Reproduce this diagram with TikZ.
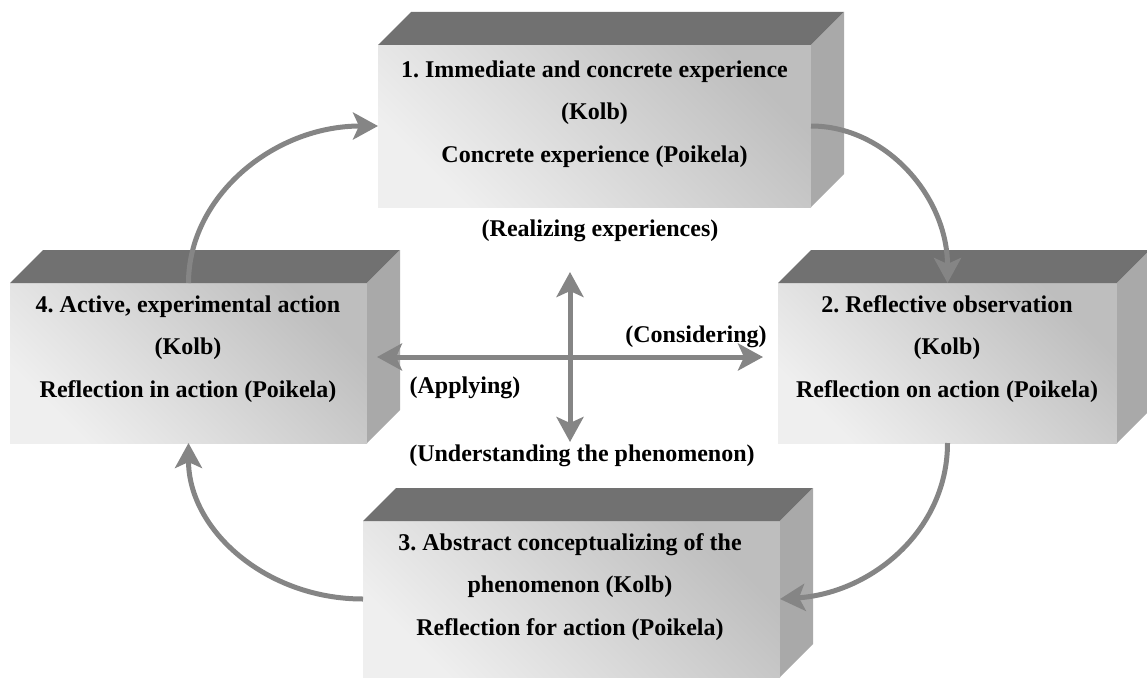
\documentclass[tikz,border=0pt]{standalone}
\usepackage{fontspec}
\setmainfont{Liberation Serif}
\usetikzlibrary{arrows.meta}
\frenchspacing

\definecolor{frontdark}{HTML}{BEBEBE}
\definecolor{frontlight}{HTML}{EFEFEF}
\definecolor{topgray}{HTML}{717171}
\definecolor{sidegray}{HTML}{A9A9A9}
\definecolor{arrowgray}{HTML}{858585}

\begin{document}
\begin{tikzpicture}[x=1pt,y=-1pt,
  frontface/.style={rectangle, inner sep=0pt, outer sep=0pt,
    top color=frontdark, bottom color=frontlight, shading angle=-45},
  topface/.style={fill=topgray},
  sideface/.style={fill=sidegray},
  boxtext/.style={align=center, inner sep=0pt,
    font=\fontsize{24}{42.5}\selectfont\bfseries},
  lbl/.style={anchor=base, inner sep=0pt, font=\fontsize{24}{28}\selectfont\bfseries},
  head/.tip={Stealth[length=25pt,width=27pt,inset=6pt]},
  flow/.style={draw=arrowgray, line width=5pt, -head},
  twoway/.style={draw=arrowgray, line width=5pt, head-head}
]
\useasboundingbox (0,0) rectangle (1147,677);

% front faces of the four blocks
\node[frontface, minimum width=433pt, minimum height=162pt] (b1) at (594.5,126) {};
\node[frontface, minimum width=339pt, minimum height=160pt] (b2) at (947.5,363) {};
\node[frontface, minimum width=417pt, minimum height=156pt] (b3) at (571.5,599) {};
\node[frontface, minimum width=357pt, minimum height=160pt] (b4) at (188.5,363) {};

% top and side faces giving the blocks their depth
\foreach \b in {b1,b2,b3,b4}{
  \fill[topface] (\b.north west) -- (\b.north east) -- ++(33,-33)
    -- ([xshift=33pt,yshift=33pt]\b.north west) -- cycle;
  \fill[sideface] (\b.north east) -- ++(33,-33)
    -- ([xshift=33pt,yshift=33pt]\b.south east) -- (\b.south east) -- cycle;
}

% block texts
\node[boxtext] (t1) at (594.5,114) {1. Immediate and concrete experience\\(Kolb)\\Concrete experience (Poikela)};
\node[boxtext] (t2) at (947,349) {2. Reflective observation\\(Kolb)\\Reflection on action (Poikela)};
\node[boxtext] (t3) at (570,587) {3. Abstract conceptualizing of the\\phenomenon (Kolb)\\Reflection for action (Poikela)};
\node[boxtext] (t4) at (188,349) {4. Active, experimental action\\(Kolb)\\Reflection in action (Poikela)};

% cycle arrows
\draw[flow] (b1.east) .. controls +(75,0) and +(0,-86) .. (b2.north);
\draw[flow] (b2.south) .. controls +(0,87) and +(92,-6) .. (b3.east);
\draw[flow] (b3.west) .. controls +(-97,0) and +(0,87) .. (b4.south);
\draw[flow] (b4.north) .. controls +(0,-86) and +(-105,0) .. (b1.west);

% central cross
\coordinate (ctop) at (570,272);
\coordinate (cbot) at (570,442);
\coordinate (cleft) at (377,357);
\coordinate (cright) at (763,357);
\draw[twoway] (cbot) -- (ctop);
\draw[twoway] (cleft) -- (cright);

% labels of the cross
\node[lbl] (lr) at (600,236) {(Realizing experiences)};
\node[lbl] (lc) at (696,342) {(Considering)};
\node[lbl] (la) at (465,393) {(Applying)};
\node[lbl] (lu) at (582,461) {(Understanding the phenomenon)};
\end{tikzpicture}
\end{document}
